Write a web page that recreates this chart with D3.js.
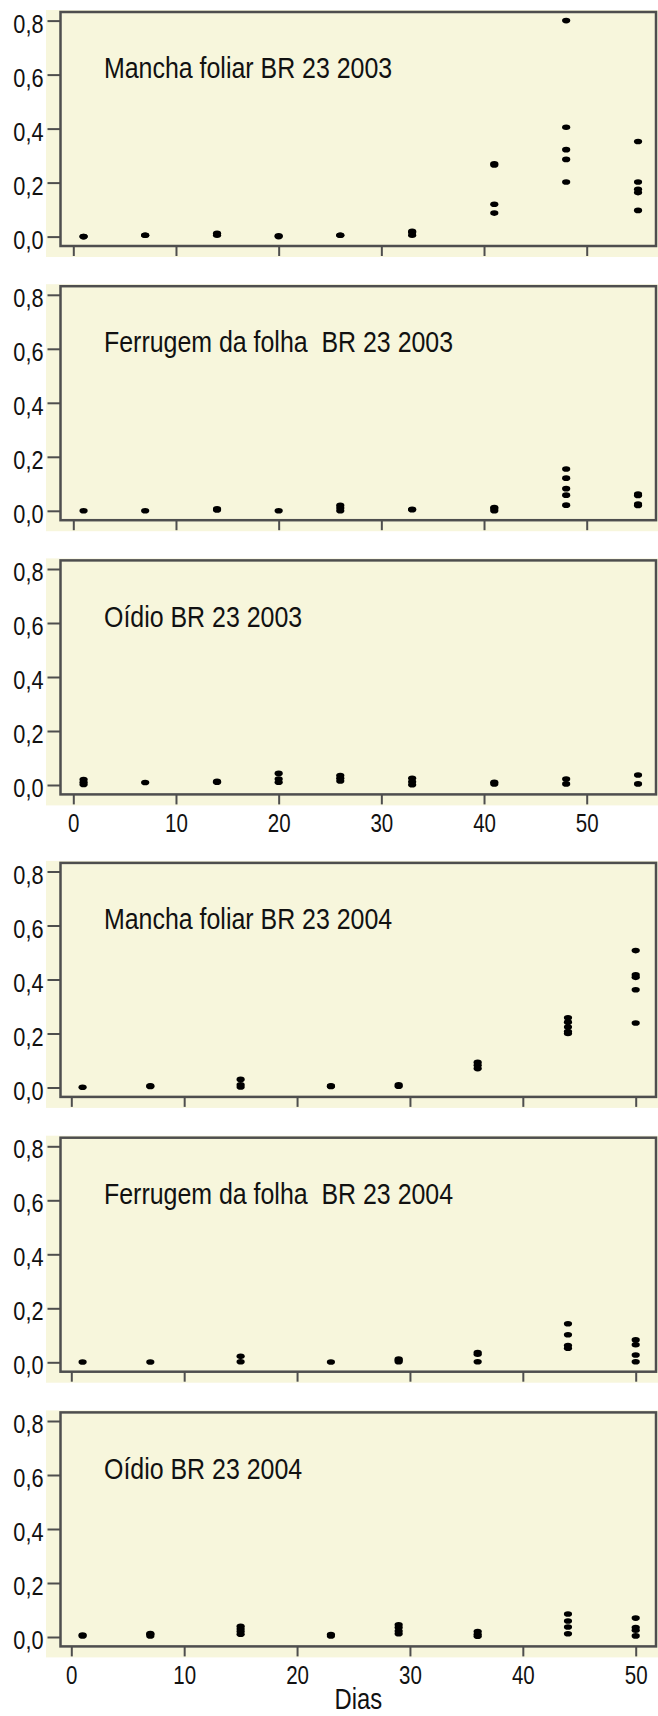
<!DOCTYPE html>
<html>
<head>
<meta charset="utf-8">
<script src="https://cdn.jsdelivr.net/npm/d3@7"></script>
<style>
  html, body { margin: 0; padding: 0; background: #ffffff; }
  svg { display: block; }
  text { font-family: "Liberation Sans", Arial, sans-serif; fill: #111; white-space: pre; }
</style>
</head>
<body>
<svg id="chart" width="658" height="1716"></svg>
<script>
// Sampling days for each season
const days2003 = [1, 7, 14, 20, 26, 33, 41, 48, 55];
const days2004 = [1, 7, 15, 23, 29, 36, 44, 50];

// Severity readings (replicates) per sampling day
const mancha2003 = [
  [0, 0], [0.005, 0.005], [0.005, 0.012], [0, 0.003], [0.005, 0.005],
  [0.005, 0.015, 0.02], [0.265, 0.27, 0.12, 0.087], [0.8, 0.405, 0.322, 0.286, 0.202],
  [0.352, 0.202, 0.175, 0.163, 0.097]
];
const ferrugem2003 = [
  [0], [0], [0.003, 0.007], [0], [0, 0.01, 0.02],
  [0.004, 0.006], [0, 0.008, 0.012], [0.155, 0.121, 0.082, 0.058, 0.021],
  [0.057, 0.062, 0.02, 0.025]
];
const oidio2003 = [
  [0.002, 0.01, 0.02], [0.009], [0.01, 0.014], [0.043, 0.022, 0.01], [0.035, 0.025, 0.015],
  [0.025, 0.012, 0.001], [0.004, 0.01], [0.022, 0.004], [0.037, 0.004]
];
const mancha2004 = [
  [0.001], [0.004, 0.006], [0.03, 0.01, 0.002], [0.004, 0.006], [0.005, 0.01],
  [0.093, 0.082, 0.07], [0.258, 0.242, 0.224, 0.207, 0.2], [0.507, 0.417, 0.408, 0.362, 0.239]
];
const ferrugem2004 = [
  [0.001], [0.001], [0.022, 0.002], [0.001], [0.002, 0.008, 0.012],
  [0.036, 0.03, 0.002], [0.143, 0.102, 0.062, 0.052], [0.083, 0.065, 0.027, 0.002]
];
const oidio2004 = [
  [0.004, 0.007], [0.004, 0.01, 0.013], [0.04, 0.03, 0.02, 0.01], [0.004, 0.009], [0.045, 0.035, 0.022, 0.012],
  [0.02, 0.01, 0.003], [0.085, 0.059, 0.037, 0.012], [0.07, 0.035, 0.025, 0.004]
];

const panelTitles = [
  "Mancha foliar BR 23 2003",
  "Ferrugem da folha  BR 23 2003",
  "Oídio BR 23 2003",
  "Mancha foliar BR 23 2004",
  "Ferrugem da folha  BR 23 2004",
  "Oídio BR 23 2004"
];
const yTicks = [0, 0.2, 0.4, 0.6, 0.8];
const xTicks = [0, 10, 20, 30, 40, 50];
const xAxisTitle = "Dias";

// Panel definitions
const panels = [
  { title: panelTitles[0], days: days2003, values: mancha2003, zero: 236.6, season: 0, labels: false },
  { title: panelTitles[1], days: days2003, values: ferrugem2003, zero: 510.8, season: 0, labels: false },
  { title: panelTitles[2], days: days2003, values: oidio2003, zero: 785.0, season: 0, labels: true },
  { title: panelTitles[3], days: days2004, values: mancha2004, zero: 1087.5, season: 1, labels: false },
  { title: panelTitles[4], days: days2004, values: ferrugem2004, zero: 1362.3, season: 1, labels: false },
  { title: panelTitles[5], days: days2004, values: oidio2004, zero: 1637.0, season: 1, labels: true, axisTitle: true }
];

const svg = d3.select("#chart");
const W = 658;
const frameLeft = 60.5, frameRight = 656;
const xRanges = [[73.3, 586.7], [71.3, 635.7]];
const bg = "#f7f6dc";
const frameColor = "#4e4e4e";
const fmt = d => d3.format(".1f")(d).replace(".", ",");
const condense = 0.82;   // narrow-face proportion applied to all lettering

panels.forEach(p => {
  const y = d3.scaleLinear().domain([0, 0.8]).range([p.zero, p.zero - 216]);
  const x = d3.scaleLinear().domain([0, 50]).range(xRanges[p.season]);
  const frameTop = p.zero - 224.6;
  const frameBottom = p.zero + 9.4;

  const g = svg.append("g");

  // cream backdrop reaching under the tick marks
  g.append("rect")
    .attr("x", 46).attr("y", frameTop - 2)
    .attr("width", W - 46).attr("height", frameBottom + 11 - (frameTop - 2))
    .attr("fill", bg);

  // y axis
  const yAxis = g.append("g")
    .attr("transform", `translate(${frameLeft},0)`)
    .call(d3.axisLeft(y).tickValues(yTicks).tickSize(13).tickPadding(4).tickFormat(fmt));
  yAxis.select(".domain").remove();
  yAxis.selectAll(".tick line").attr("stroke", frameColor).attr("stroke-width", 2);
  yAxis.selectAll(".tick text")
    .attr("dy", null).attr("y", 11.5)
    .attr("font-size", 26.5)
    .attr("font-family", null)
    .attr("fill", "#111");

  // x axis
  const xAxis = g.append("g")
    .attr("transform", `translate(0,${frameBottom})`)
    .call(d3.axisBottom(x).tickValues(xTicks).tickSize(10).tickPadding(0)
      .tickFormat(p.labels ? d => d : () => ""));
  xAxis.select(".domain").remove();
  xAxis.selectAll(".tick line").attr("stroke", frameColor).attr("stroke-width", 2);
  xAxis.selectAll(".tick text")
    .attr("dy", null).attr("y", 37.5)
    .attr("font-size", 25)
    .attr("font-family", null)
    .attr("fill", "#111");

  // plot frame
  g.append("rect")
    .attr("x", frameLeft).attr("y", frameTop)
    .attr("width", frameRight - frameLeft).attr("height", frameBottom - frameTop)
    .attr("fill", "none")
    .attr("stroke", frameColor)
    .attr("stroke-width", 2.5);

  // panel title
  g.append("text")
    .attr("x", 104)
    .attr("y", y(0.8) + 57.5)
    .attr("font-size", 30.4)
    .attr("xml:space", "preserve")
    .text(p.title);

  // replicate readings
  const pts = [];
  p.days.forEach((d, i) => p.values[i].forEach(v => pts.push({ day: d, value: v })));
  g.append("g").selectAll("ellipse")
    .data(pts)
    .join("ellipse")
    .attr("cx", d => x(d.day))
    .attr("cy", d => y(d.value))
    .attr("rx", 4.1)
    .attr("ry", 2.8)
    .attr("fill", "#000");

  if (p.axisTitle) {
    g.append("text")
      .attr("x", (frameLeft + frameRight) / 2)
      .attr("y", frameBottom + 63)
      .attr("text-anchor", "middle")
      .attr("font-size", 29)
      .text(xAxisTitle);
  }
});

// squeeze every label to a narrow proportion
svg.selectAll("text").each(function () {
  const len = this.getComputedTextLength();
  if (len > 0) {
    d3.select(this)
      .attr("textLength", len * condense)
      .attr("lengthAdjust", "spacingAndGlyphs");
  }
});
</script>
</body>
</html>
